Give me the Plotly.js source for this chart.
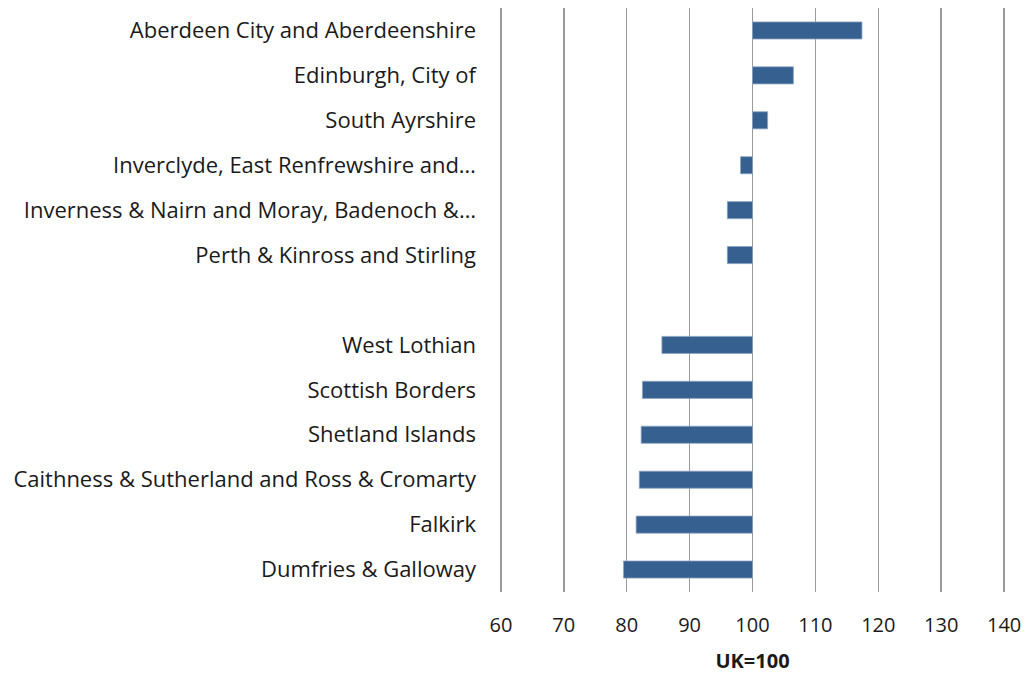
<!DOCTYPE html>
<html>
<head>
<meta charset="utf-8">
<script src="https://cdn.plot.ly/plotly-3.0.1.min.js"></script>
<style>html,body{margin:0;padding:0;background:#fff;}#chart{width:1025px;height:675px;}</style>
</head>
<body>
<div id="chart"></div>
<script>
const categories = [
  "Aberdeen City and Aberdeenshire",
  "Edinburgh, City of",
  "South Ayrshire",
  "Inverclyde, East Renfrewshire and…",
  "Inverness & Nairn and Moray, Badenoch &…",
  "Perth & Kinross and Stirling",
  " ",
  "West Lothian",
  "Scottish Borders",
  "Shetland Islands",
  "Caithness & Sutherland and Ross & Cromarty",
  "Falkirk",
  "Dumfries & Galloway"
];
const values = [117.4, 106.5, 102.4, 98.1, 96.0, 96.0, null, 85.6, 82.5, 82.3, 82.0, 81.5, 79.5];
const baseline = 100;
const xTicks = [60, 70, 80, 90, 100, 110, 120, 130, 140];
const xTitle = "UK=100";

const trace = {
  type: "bar",
  orientation: "h",
  y: categories,
  x: values.map(v => v === null ? null : v - baseline),
  base: baseline,
  width: 0.38,
  marker: {color: "#35608f", line: {color: "#8aa3c2", width: 0.8}},
  hoverinfo: "skip"
};

const layout = {
  width: 1025, height: 675,
  margin: {l: 499, r: 19, t: 8, b: 83},
  paper_bgcolor: "#fff", plot_bgcolor: "#fff",
  showlegend: false,
  font: {family: "'Open Sans', Lato, sans-serif", size: 22, color: "#1a1a1a"},
  xaxis: {
    range: [59.7, 140.3],
    tickvals: xTicks,
    ticktext: xTicks.map(String),
    tickfont: {size: 20},
    showgrid: true, gridcolor: "#9a9a9a", gridwidth: 1.5,
    zeroline: false, showline: false, ticks: "",
    ticklabelstandoff: 19,
    title: {text: "<b>" + xTitle + "</b>", font: {size: 20}, standoff: 16}
  },
  yaxis: {
    type: "category",
    categoryorder: "array", categoryarray: categories,
    autorange: "reversed",
    showgrid: false, zeroline: false, showline: false, ticks: "",
    ticklabelstandoff: 22
  }
};

Plotly.newPlot("chart", [trace], layout, {displayModeBar: false, staticPlot: true});
</script>
</body>
</html>
